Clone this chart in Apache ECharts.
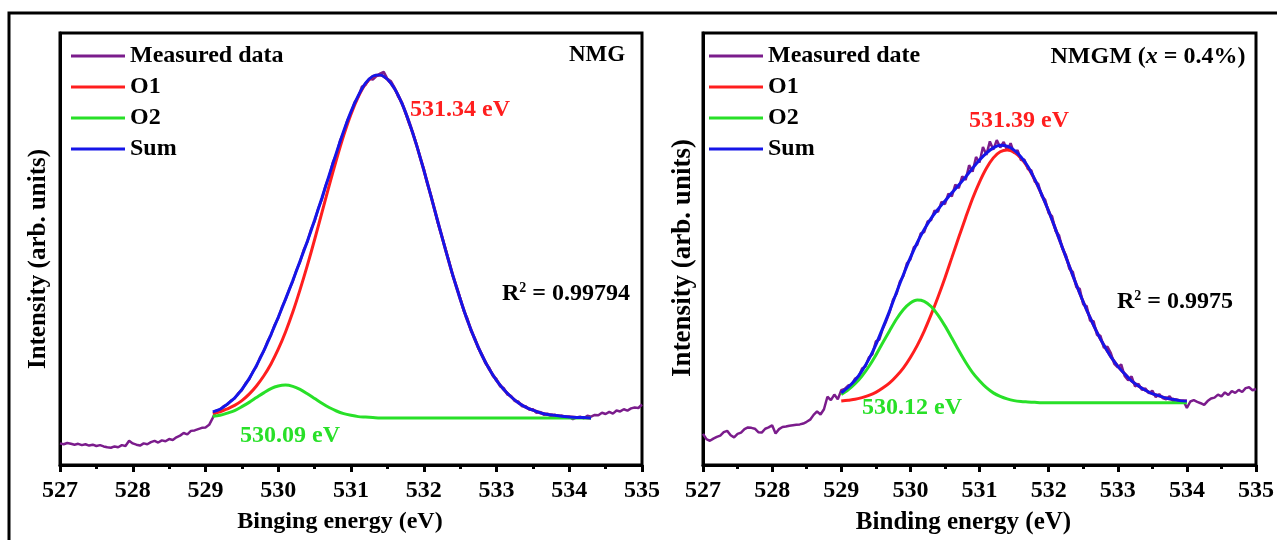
<!DOCTYPE html>
<html>
<head>
<meta charset="utf-8">
<script src="https://cdn.jsdelivr.net/npm/echarts/dist/echarts.min.js"></script>
<style>
html, body { margin: 0; padding: 0; background: #fff; }
#chart { width: 1277px; height: 540px; }
</style>
</head>
<body>
<div id="chart"></div>
<script>
// energy sampling (eV)
const xMin = 527, xMax = 535;
const measStart = 527, measStep = 0.05;
const leftFitStart = 529.1, rightFitStart = 529.0, fitStep = 0.1;

// NMG - measured spectrum, 527.00 .. 535.00 step 0.05
const leftMeasured = [
    5.0, 4.8, 5.1, 4.9, 4.7, 4.9, 4.6, 4.8, 4.5, 4.7,
    4.4, 4.6, 4.3, 4.1, 4.0, 4.3, 4.1, 4.6, 4.4, 5.6,
    5.0, 4.7, 4.5, 5.0, 4.8, 5.3, 5.6, 5.2, 5.7, 5.5,
    6.0, 5.8, 6.4, 6.8, 7.4, 7.1, 7.9, 8.0, 8.3, 8.6,
    8.7, 9.3, 10.9, 12.6, 12.8, 13.6, 14.0, 14.9, 15.4, 16.6,
    17.3, 18.9, 19.8, 21.6, 22.8, 24.9, 26.3, 28.5, 30.1, 32.4,
    34.0, 36.5, 38.3, 40.6, 42.5, 45.1, 47.0, 49.8, 51.6, 54.5,
    56.4, 59.4, 61.5, 64.6, 66.8, 70.0, 72.0, 75.1, 77.0, 79.8,
    81.5, 84.0, 85.2, 87.6, 88.0, 89.4, 89.2, 90.0, 90.6, 91.0,
    89.4, 88.8, 87.3, 85.2, 83.9, 81.4, 79.0, 76.9, 74.3, 71.2,
    68.6, 65.0, 62.4, 59.0, 55.7, 52.9, 49.9, 47.0, 43.7, 41.4,
    38.7, 35.7, 33.9, 31.0, 29.4, 27.0, 25.6, 23.5, 22.5, 20.6,
    19.9, 18.2, 17.8, 16.3, 16.0, 14.8, 14.7, 13.6, 13.6, 12.8,
    12.9, 12.1, 12.3, 11.6, 11.9, 11.3, 11.6, 11.1, 11.4, 10.9,
    11.2, 10.6, 11.0, 11.2, 10.8, 11.4, 11.2, 11.6, 11.5, 12.1,
    11.8, 12.3, 11.9, 12.6, 12.4, 12.9, 12.6, 13.1, 13.3, 13.2,
    14.0
];
// NMG - fitted peaks, 529.1 .. 534.3 step 0.1
const leftO1 = [
    11.9, 12.3, 13.0, 13.8, 14.9, 16.4, 18.3, 20.6, 23.4, 26.8,
    30.8, 35.4, 40.6, 46.2, 52.2, 58.4, 64.7, 70.7, 76.3, 81.2,
    85.2, 88.2, 89.9, 90.3, 89.3, 87.1, 83.7, 79.3, 74.1, 68.3,
    62.2, 55.9, 49.8, 43.9, 38.5, 33.5, 29.2, 25.4, 22.2, 19.6,
    17.5, 15.8, 14.4, 13.4, 12.7, 12.1, 11.7, 11.5, 11.3, 11.1,
    11.0, 11.0, 10.9
];
const leftO2 = [
    11.3, 11.5, 12.0, 12.6, 13.5, 14.5, 15.6, 16.7, 17.7, 18.3,
    18.5, 18.2, 17.5, 16.5, 15.4, 14.3, 13.3, 12.5, 11.9, 11.5,
    11.2, 11.1, 11.0, 10.9, 10.9, 10.9, 10.9, 10.9, 10.9, 10.9,
    10.9, 10.9, 10.9, 10.9, 10.9, 10.9, 10.9, 10.9, 10.9, 10.9,
    10.9, 10.9, 10.9, 10.9, 10.9, 10.9, 10.9, 10.9, 10.9, 10.9,
    10.9, 10.9, 10.9
];
const leftSum = [
    12.3, 12.9, 14.1, 15.5, 17.5, 20.0, 23.0, 26.4, 30.2, 34.2,
    38.4, 42.7, 47.2, 51.8, 56.7, 61.8, 67.1, 72.3, 77.3, 81.8,
    85.5, 88.4, 90.0, 90.3, 89.3, 87.1, 83.7, 79.3, 74.1, 68.3,
    62.2, 55.9, 49.8, 43.9, 38.5, 33.5, 29.2, 25.4, 22.2, 19.6,
    17.5, 15.8, 14.4, 13.4, 12.7, 12.1, 11.7, 11.5, 11.3, 11.1,
    11.0, 11.0, 10.9
];

// NMGM (x = 0.4%) - measured spectrum, 527.00 .. 535.00 step 0.05
const rightMeasured = [
    7.2, 6.0, 5.6, 6.1, 6.5, 6.8, 7.6, 7.9, 6.9, 6.4,
    7.2, 7.5, 8.3, 8.7, 8.6, 8.4, 7.6, 7.5, 8.4, 8.7,
    9.2, 7.3, 8.3, 8.8, 8.9, 9.1, 9.2, 9.3, 9.4, 9.6,
    10.0, 10.5, 11.6, 12.4, 11.7, 12.9, 15.8, 15.0, 16.3, 15.2,
    17.3, 17.6, 18.4, 18.6, 20.0, 20.4, 22.3, 22.8, 24.9, 25.6,
    28.6, 29.0, 31.5, 33.3, 35.4, 38.3, 39.6, 42.5, 43.8, 46.7,
    47.6, 50.4, 51.0, 53.6, 53.9, 56.4, 56.7, 58.9, 58.6, 60.9,
    60.4, 62.8, 62.2, 64.9, 64.1, 66.8, 66.0, 69.4, 67.9, 71.3,
    70.0, 73.6, 71.8, 74.9, 73.0, 75.2, 73.5, 74.8, 72.8, 74.5,
    72.2, 72.9, 70.6, 70.7, 68.5, 68.2, 65.6, 65.1, 62.3, 61.4,
    58.3, 57.6, 54.2, 53.2, 50.0, 48.6, 45.4, 44.7, 41.2, 40.8,
    37.2, 36.8, 33.4, 33.3, 30.1, 29.9, 27.1, 27.4, 25.9, 23.4,
    22.6, 23.3, 20.6, 19.6, 20.5, 18.2, 18.8, 17.4, 17.7, 16.6,
    17.2, 15.7, 16.4, 15.5, 15.2, 15.9, 14.8, 15.1, 14.5, 14.9,
    13.2, 14.7, 15.0, 14.6, 14.3, 13.9, 14.8, 15.4, 15.6, 16.3,
    15.9, 16.8, 16.2, 17.1, 16.7, 17.4, 16.9, 17.8, 18.0, 17.3,
    17.6
];
// NMGM - fitted peaks, 529.0 .. 534.0 step 0.1
const rightO1 = [
    14.8, 15.0, 15.2, 15.6, 16.1, 16.8, 17.8, 19.0, 20.6, 22.5,
    24.9, 27.7, 31.0, 34.8, 38.9, 43.3, 48.0, 52.7, 57.3, 61.7,
    65.5, 68.7, 71.1, 72.5, 72.9, 72.4, 71.0, 68.9, 66.0, 62.6,
    58.8, 54.6, 50.3, 46.0, 41.8, 37.8, 34.1, 30.7, 27.7, 25.1,
    22.9, 21.1, 19.5, 18.3, 17.3, 16.5, 16.0, 15.5, 15.2, 14.9,
    14.8
];
const rightO2 = [
    16.3, 17.4, 18.8, 20.6, 22.8, 25.4, 28.3, 31.1, 33.8, 36.0,
    37.5, 38.2, 37.9, 36.7, 34.7, 32.2, 29.4, 26.5, 23.8, 21.4,
    19.5, 17.9, 16.7, 15.9, 15.3, 14.9, 14.7, 14.6, 14.5, 14.4,
    14.4, 14.4, 14.4, 14.4, 14.4, 14.4, 14.4, 14.4, 14.4, 14.4,
    14.4, 14.4, 14.4, 14.4, 14.4, 14.4, 14.4, 14.4, 14.4, 14.4,
    14.4
];
const rightSum = [
    16.7, 18.0, 19.6, 21.8, 24.5, 27.8, 31.7, 35.7, 40.0, 44.1,
    48.0, 51.5, 54.5, 57.1, 59.2, 61.1, 63.0, 64.8, 66.7, 68.7,
    70.6, 72.2, 73.4, 74.0, 73.8, 72.9, 71.3, 69.1, 66.1, 62.6,
    58.8, 54.6, 50.3, 46.0, 41.8, 37.8, 34.1, 30.7, 27.7, 25.1,
    22.9, 21.1, 19.5, 18.3, 17.3, 16.5, 16.0, 15.5, 15.2, 14.9,
    14.8
];

const font = 'Liberation Serif, serif';
const cMeas = '#7b1c8c', cO1 = '#ff1e1e', cO2 = '#28e028', cSum = '#1515e8';

function toPairs(arr, start, step) {
    return arr.map((v, i) => [+(start + i * step).toFixed(2), v]);
}

function makeSeries(idx, measName, meas, o1, o2, sum, fitStart) {
    const base = { type: 'line', xAxisIndex: idx, yAxisIndex: idx, symbol: 'none', animation: false };
    return [
        { ...base, name: measName, data: toPairs(meas, measStart, measStep),
          lineStyle: { width: 2.5, color: cMeas }, itemStyle: { color: cMeas } },
        { ...base, name: 'O1', smooth: 0.3, data: toPairs(o1, fitStart, fitStep),
          lineStyle: { width: 3, color: cO1 }, itemStyle: { color: cO1 } },
        { ...base, name: 'O2', smooth: 0.3, data: toPairs(o2, fitStart, fitStep),
          lineStyle: { width: 3, color: cO2 }, itemStyle: { color: cO2 } },
        { ...base, name: 'Sum', smooth: 0.3, data: toPairs(sum, fitStart, fitStep),
          lineStyle: { width: 3, color: cSum }, itemStyle: { color: cSum } }
    ];
}

function makeX(idx, name, nameSize, shift) {
    return {
        type: 'value', gridIndex: idx, min: xMin, max: xMax, interval: 1,
        name: name, nameLocation: 'middle', nameGap: 45,
        nameTextStyle: { fontFamily: font, fontWeight: 'bold', fontSize: nameSize, color: '#000', padding: [0, shift, 0, 0] },
        axisLine: { lineStyle: { color: '#000', width: 3 } },
        axisTick: { length: 7, lineStyle: { color: '#000', width: 3 } },
        minorTick: { show: true, splitNumber: 2, length: 4, lineStyle: { color: '#000', width: 3 } },
        splitLine: { show: false },
        axisLabel: {
            margin: 14, color: '#000',
            formatter: v => '{t|' + v + '}',
            rich: { t: { fontFamily: 'Liberation Serif', fontWeight: 'bold', fontSize: 24, color: '#000' } }
        }
    };
}

function makeY(idx, gap, nameSize, shift) {
    return {
        type: 'value', gridIndex: idx, min: 0, max: 100,
        name: 'Intensity (arb. units)', nameLocation: 'middle', nameGap: gap,
        nameTextStyle: { fontFamily: font, fontWeight: 'bold', fontSize: nameSize, color: '#000', padding: [0, shift, 0, 0] },
        axisLine: { show: true, lineStyle: { color: '#000', width: 3 } },
        axisTick: { show: false },
        axisLabel: { show: false },
        splitLine: { show: false }
    };
}

function makeLegend(left, names) {
    return {
        orient: 'vertical', left: left, top: 39, itemGap: 7,
        icon: 'rect', itemWidth: 54, itemHeight: 3,
        textStyle: { fontFamily: font, fontWeight: 'bold', fontSize: 24, color: '#000', lineHeight: 24 },
        data: names
    };
}

function label(x, y, text, color, extra) {
    return {
        type: 'text', x: x, y: y, z: 100,
        style: Object.assign({
            text: text, fill: color, align: 'center', verticalAlign: 'middle',
            fontFamily: font, fontWeight: 'bold', fontSize: 24
        }, extra || {})
    };
}

const r2Rich = {
    a: { fontFamily: font, fontWeight: 'bold', fontSize: 24, fill: '#000', lineHeight: 26 },
    s: { fontFamily: font, fontWeight: 'bold', fontSize: 14, fill: '#000', verticalAlign: 'top', lineHeight: 26 },
    i: { fontFamily: font, fontWeight: 'bold', fontStyle: 'italic', fontSize: 24, fill: '#000', lineHeight: 26 }
};

const chart = echarts.init(document.querySelector('#chart'));
chart.setOption({
    backgroundColor: '#fff',
    animation: false,
    textStyle: { fontFamily: font, fontWeight: 'bold' },
    grid: [
        { left: 60, top: 33, width: 582, height: 432, show: true, borderColor: '#000', borderWidth: 3 },
        { left: 703, top: 33, width: 556, height: 432, show: true, borderColor: '#000', borderWidth: 3 }
    ],
    xAxis: [makeX(0, 'Binging energy (eV)', 24, 22), makeX(1, 'Binding energy (eV)', 25, 32)],
    yAxis: [makeY(0, 9, 25, 20), makeY(1, 6, 27, 18)],
    legend: [
        makeLegend(66, ['Measured data', 'O1', 'O2', 'Sum']),
        makeLegend(704, ['Measured date', 'O1', 'O2', 'Sum'])
    ],
    graphic: [
        // outer frame
        { type: 'rect', shape: { x: 9, y: 13, width: 1300, height: 600 },
          style: { fill: 'none', stroke: '#000', lineWidth: 3 } },
        label(597, 55, 'NMG', '#000', { fontSize: 23 }),
        label(460, 110, '531.34 eV', cO1),
        label(566, 294, '{a|R}{s|2}{a| = 0.99794}', '#000', { rich: r2Rich }),
        label(290, 436, '530.09 eV', cO2),
        label(1148, 57, '{a|NMGM (}{i|x}{a| = 0.4%)}', '#000', { rich: r2Rich }),
        label(1019, 121, '531.39 eV', cO1),
        label(1175, 302, '{a|R}{s|2}{a| = 0.9975}', '#000', { rich: r2Rich }),
        label(912, 408, '530.12 eV', cO2)
    ],
    series: [
        ...makeSeries(0, 'Measured data', leftMeasured, leftO1, leftO2, leftSum, leftFitStart),
        ...makeSeries(1, 'Measured date', rightMeasured, rightO1, rightO2, rightSum, rightFitStart)
    ]
});
</script>
</body>
</html>
